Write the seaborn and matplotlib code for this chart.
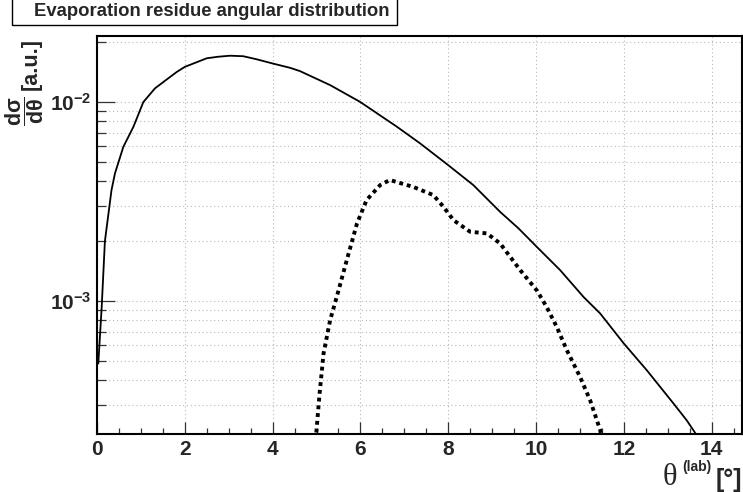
import numpy as np
import pandas as pd
import matplotlib
matplotlib.use("Agg")
import matplotlib.pyplot as plt
import seaborn as sns
from matplotlib.ticker import FixedLocator, LogLocator, NullFormatter, FixedFormatter
from matplotlib.patches import Rectangle

# ---- data ----
theta_total = [0.03, 0.107, 0.18, 0.33, 0.41, 0.60, 0.83, 1.055, 1.32, 1.59, 1.82, 2.0,
               2.5, 2.76, 3.03, 3.33, 3.64, 4.0, 4.40, 4.62, 5.31, 5.99, 6.83, 7.36, 8.0,
               8.57, 9.18, 9.6, 10.02, 10.55, 11.08, 11.46, 12.0, 12.52, 13.13, 13.43,
               13.64, 13.8]
xs_total = [4.86e-4, 9.35e-4, 2.0e-3, 3.61e-3, 4.39e-3, 5.96e-3, 7.52e-3, 0.0100, 0.01172,
            0.0130, 0.01419, 0.01503, 0.0166, 0.0169, 0.0171, 0.0170, 0.0164, 0.01563,
            0.01486, 0.01432, 0.01217, 0.01003, 7.52e-3, 6.20e-3, 4.82e-3, 3.83e-3,
            2.81e-3, 2.32e-3, 1.87e-3, 1.43e-3, 1.05e-3, 8.67e-4, 6.12e-4, 4.50e-4,
            3.06e-4, 2.52e-4, 2.15e-4, 1.85e-4]

theta_gated = [4.98, 5.07, 5.16, 5.31, 5.46, 5.69, 5.92, 6.14, 6.45, 6.67, 7.2, 7.66,
               7.89, 8.12, 8.5, 8.88, 9.18, 9.64, 10.02, 10.24, 10.47, 10.7, 11.0,
               11.23, 11.46, 11.5]
xs_gated = [2.0e-4, 3.44e-4, 5.46e-4, 8.03e-4, 1.05e-3, 1.61e-3, 2.45e-3, 3.22e-3,
            3.83e-3, 4.06e-3, 3.75e-3, 3.41e-3, 2.98e-3, 2.55e-3, 2.23e-3, 2.19e-3,
            1.95e-3, 1.43e-3, 1.13e-3, 9.35e-4, 7.43e-4, 5.67e-4, 4.17e-4, 3.18e-4,
            2.25e-4, 2.0e-4]

x_ticks = [0, 2, 4, 6, 8, 10, 12, 14]
x_ticklabels = ["0", "2", "4", "6", "8", "10", "12", "14"]
y_ticks = [1e-3, 1e-2]
y_ticklabels = [r"$\mathbf{10^{-3}}$", r"$\mathbf{10^{-2}}$"]

title = "Evaporation residue angular distribution"

# ---- style ----
sns.set_style("white")
plt.rcParams["font.family"] = ["Liberation Sans", "DejaVu Sans"]
plt.rcParams["font.weight"] = "bold"
plt.rcParams["mathtext.fontset"] = "custom"
plt.rcParams["mathtext.rm"] = "Liberation Sans:bold"
plt.rcParams["mathtext.it"] = "Liberation Sans:bold"
plt.rcParams["mathtext.bf"] = "Liberation Sans:bold"
plt.rcParams["mathtext.sf"] = "Liberation Sans:bold"

fig = plt.figure(figsize=(7.43, 4.92), dpi=100)
W, H = 743.0, 492.0
ax = fig.add_axes([97 / W, 1 - 434 / H, (742 - 97) / W, (434 - 36) / H])

df_tot = pd.DataFrame({"theta": theta_total, "xs": xs_total})
df_gat = pd.DataFrame({"theta": theta_gated, "xs": xs_gated})

sns.lineplot(data=df_tot, x="theta", y="xs", ax=ax, color="black", lw=1.3,
             estimator=None, sort=False)
sns.lineplot(data=df_gat, x="theta", y="xs", ax=ax, color="black", lw=2.8,
             estimator=None, sort=False, linestyle=(0, (1, 1)), dash_capstyle="butt")

ax.set_yscale("log")
ax.set_xlim(0, 14.69)
ax.set_ylim(2.15e-4, 0.02148)

ax.xaxis.set_major_locator(FixedLocator(x_ticks))
ax.xaxis.set_major_formatter(FixedFormatter(x_ticklabels))
ax.xaxis.set_minor_locator(FixedLocator(np.arange(0, 14.7, 0.5)))
ax.yaxis.set_major_locator(FixedLocator(y_ticks))
ax.yaxis.set_major_formatter(FixedFormatter(y_ticklabels))
ax.yaxis.set_minor_locator(LogLocator(base=10, subs=np.arange(2, 10)))
ax.yaxis.set_minor_formatter(NullFormatter())

ax.tick_params(axis="x", which="major", direction="in", length=8.5, width=0.9,
               labelsize=15, pad=4, bottom=True, top=False, color="#333333")
ax.tick_params(axis="x", which="minor", direction="in", length=4.3, width=0.9,
               bottom=True, top=False, color="#333333")
ax.tick_params(axis="y", which="major", direction="in", length=13, width=0.9,
               labelsize=15, pad=4, left=True, right=False, color="#333333")
ax.tick_params(axis="y", which="minor", direction="in", length=6.5, width=0.9,
               left=True, right=False, color="#333333")
for lab in ax.get_xticklabels() + ax.get_yticklabels():
    lab.set_fontweight("bold")

ax.grid(True, which="major", axis="x", color="#b8b8b8", lw=0.8, linestyle=(0, (1, 2.5)))
ax.grid(True, which="both", axis="y", color="#b8b8b8", lw=0.8, linestyle=(0, (1, 2.5)))
ax.set_axisbelow(True)

for s in ax.spines.values():
    s.set_linewidth(1.5)
    s.set_color("black")

ax.set_xlabel("")
ax.set_ylabel("")

# y label (rotated, placed at the top like ROOT)
fig.text(31 / W, 1 - 64 / H, "[a.u.]", rotation=90, ha="center", va="center",
         fontsize=15.5, fontweight="bold")
fig.text(25 / W, 1 - 111 / H, r"$\dfrac{d\sigma}{d\theta}$", rotation=90,
         ha="center", va="center", fontsize=15.5)

# x label
fig.text(742 / W, 1 - 487 / H, "[°]", ha="right", va="baseline",
         fontsize=18, fontweight="bold")
fig.text(682 / W, 1 - 471 / H, "(lab)", ha="left", va="baseline",
         fontsize=10, fontweight="bold")
fig.text(663 / W, 1 - 485 / H, "θ", ha="left", va="baseline",
         fontsize=22, fontweight="normal", family=["Liberation Serif", "DejaVu Serif"])

# title box
fig.patches.append(Rectangle((12 / W, 1 - 25 / H), (397 - 12) / W, 30 / H,
                             transform=fig.transFigure, facecolor="white",
                             edgecolor="black", lw=1.0))
fig.text(212 / W, 1 - 12 / H, title, ha="center", va="center",
         fontsize=13.3, fontweight="bold")

fig.savefig("out.png", dpi=100)
